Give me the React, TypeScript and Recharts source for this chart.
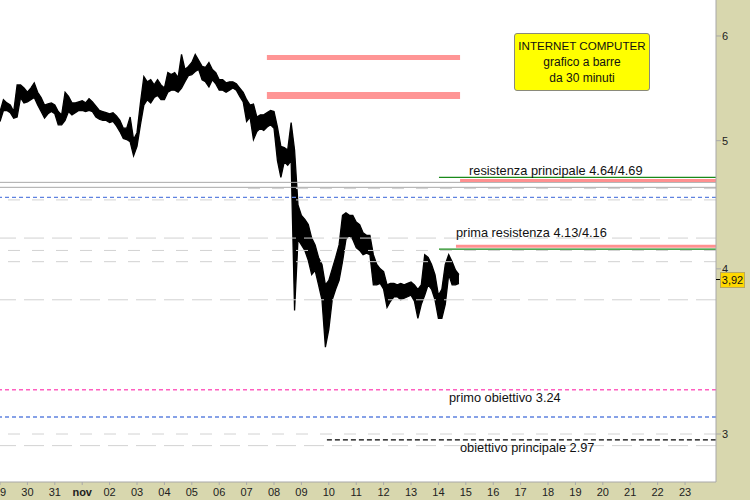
import { ComposedChart, Area, XAxis, YAxis, CartesianGrid, ReferenceLine, ReferenceArea } from 'recharts';

// x axis: one unit = one day, 0 = 29 Oct
const dayLabels = ['29', '30', '31', 'nov', '02', '03', '04', '05', '06', '07', '08', '09', '10', '11', '12', '13', '14', '15', '16', '17', '18', '19', '20', '21', '22', '23'];

// price range of each 3-hour slice
const barHigh = [
  5.26, 5.37, 5.34, 5.32, 5.26, 5.51, 5.51, 5.48, 5.44, 5.48,
  5.53, 5.44, 5.39, 5.32, 5.33, 5.34, 5.32, 5.26, 5.23, 5.44,
  5.40, 5.34, 5.34, 5.35, 5.36, 5.34, 5.38, 5.35, 5.31, 5.27,
  5.26, 5.25, 5.24, 5.25, 5.22, 5.18, 5.11, 5.11, 5.21, 5.01,
  5.07, 5.34, 5.59, 5.54, 5.56, 5.51, 5.56, 5.51, 5.48, 5.63,
  5.61, 5.63, 5.58, 5.81, 5.66, 5.69, 5.73, 5.81, 5.75, 5.69,
  5.68, 5.73, 5.66, 5.63, 5.56, 5.56, 5.53, 5.54, 5.54, 5.52,
  5.48, 5.44, 5.37, 5.32, 5.33, 5.21, 5.23, 5.23, 5.25, 5.27,
  5.26, 5.12, 4.95, 4.94, 4.92, 5.16, 4.92, 4.47, 4.39, 4.36,
  4.32, 4.22, 4.17, 4.08, 4.03, 3.89, 3.92, 4.00, 4.08, 4.17,
  4.39, 4.41, 4.39, 4.39, 4.34, 4.32, 4.26, 4.24, 4.24, 4.10,
  4.03, 4.00, 3.98, 3.89, 3.90, 3.90, 3.89, 3.90, 3.89, 3.90,
  3.91, 3.89, 3.86, 3.89, 4.10, 4.08, 4.03, 3.96, 3.82, 3.86,
  4.03, 4.10, 4.05, 3.99, 3.96,
];
const barLow = [
  5.17, 5.27, 5.27, 5.25, 5.20, 5.21, 5.39, 5.34, 5.35, 5.37,
  5.39, 5.32, 5.26, 5.20, 5.24, 5.26, 5.24, 5.14, 5.14, 5.18,
  5.26, 5.23, 5.25, 5.27, 5.27, 5.26, 5.27, 5.26, 5.21, 5.19,
  5.18, 5.18, 5.16, 5.17, 5.13, 5.08, 5.02, 5.01, 4.99, 4.87,
  4.95, 5.14, 5.32, 5.37, 5.34, 5.39, 5.41, 5.37, 5.37, 5.44,
  5.46, 5.46, 5.44, 5.48, 5.54, 5.60, 5.61, 5.64, 5.66, 5.56,
  5.54, 5.49, 5.56, 5.52, 5.46, 5.46, 5.44, 5.46, 5.48, 5.46,
  5.40, 5.35, 5.17, 5.21, 5.01, 5.08, 5.11, 5.09, 5.12, 5.14,
  5.11, 4.83, 4.69, 4.82, 4.79, 4.83, 3.72, 4.21, 4.17, 4.13,
  4.06, 3.96, 3.99, 3.89, 3.79, 3.49, 3.60, 3.79, 3.86, 3.92,
  4.05, 4.21, 4.24, 4.21, 4.15, 4.13, 4.10, 4.11, 4.10, 3.89,
  3.89, 3.90, 3.86, 3.74, 3.78, 3.81, 3.81, 3.79, 3.80, 3.81,
  3.82, 3.78, 3.67, 3.76, 3.82, 3.89, 3.86, 3.79, 3.67, 3.67,
  3.76, 3.96, 3.89, 3.89, 3.90,
];
const lastPrice = 3.92;

// drawn levels
const supplyZoneHigh = [5.754, 5.805];
const supplyZoneLow = [5.376, 5.442];
const mainResistance = [4.665, 4.69];
const firstResistance = [4.16, 4.14];
const grayLevels = [4.65, 4.61];
const shortDashLevels = [4.51, 4.13, 4.05, 3.0];
const longDashLevels = [4.22, 3.79, 2.94];
const blueLevels = [4.53, 3.09];
const firstTarget = 3.24;
const mainTarget = 2.97;

const xMax = 26.13;
const data = barHigh.map((h, i) => ({ t: i / 8, range: [barLow[i], h] }));

function DayTick({ x, y, payload }: any) {
  const label = dayLabels[payload.value];
  return (
    <text x={x} y={y} dy={9} textAnchor="middle" fontSize={11} fill="#222" fontWeight={label === 'nov' ? 'bold' : 'normal'}>
      {label}
    </text>
  );
}

function PriceTick({ x, y, payload }: any) {
  return (
    <text x={x} y={y} dy="0.35em" textAnchor="start" fontSize={11} fill="#222">
      {payload.value}
    </text>
  );
}

const note = { position: 'absolute' as const, fontSize: 12.8, lineHeight: '16px', color: '#111', whiteSpace: 'nowrap' as const };

export default function App() {
  return (
    <div style={{ position: 'absolute', left: 0, top: 0, width: 750, height: 500, background: '#d8d7ae', fontFamily: '"Liberation Sans", Arial, sans-serif' }}>
      <ComposedChart width={750} height={500} data={data} margin={{ top: 0, right: 0, bottom: 0, left: 0 }}>
        <CartesianGrid fill="#fff" horizontal={false} vertical={false} stroke="none" />
        <XAxis
          dataKey="t"
          type="number"
          domain={[0, xMax]}
          ticks={dayLabels.map((_, i) => i)}
          interval={0}
          allowDataOverflow
          height={18}
          tickSize={3}
          stroke="#a8a8a8"
          tick={<DayTick />}
        />
        <YAxis
          orientation="right"
          type="number"
          scale="log"
          domain={[2.7595, 6.388]}
          ticks={[3, 4, 5, 6]}
          allowDataOverflow
          width={34}
          tickSize={5}
          tickMargin={1}
          stroke="#a8a8a8"
          tick={<PriceTick />}
        />

        {grayLevels.map((v) => (
          <ReferenceLine key={'g' + v} y={v} stroke="#a9a9a9" strokeWidth={1} />
        ))}
        {shortDashLevels.map((v) => (
          <ReferenceLine key={'s' + v} y={v} stroke="#d2d2d2" strokeDasharray="12 12" />
        ))}
        <ReferenceLine segment={[{ x: 9.05, y: 4.6 }, { x: xMax, y: 4.6 }]} stroke="#d2d2d2" strokeDasharray="12 12" />
        {longDashLevels.map((v) => (
          <ReferenceLine key={'l' + v} y={v} stroke="#d2d2d2" strokeDasharray="20 8" />
        ))}
        {blueLevels.map((v) => (
          <ReferenceLine key={'b' + v} y={v} stroke="#5f82e0" strokeWidth={1.4} strokeDasharray="4 3" />
        ))}
        <ReferenceLine y={firstTarget} stroke="#ff5fc0" strokeWidth={1.4} strokeDasharray="4 3" />
        <ReferenceLine segment={[{ x: 11.93, y: mainTarget }, { x: xMax, y: mainTarget }]} stroke="#000" strokeWidth={1.2} strokeDasharray="5 3" />

        <ReferenceArea x1={9.74} x2={16.79} y1={supplyZoneHigh[0]} y2={supplyZoneHigh[1]} fill="#ff9595" fillOpacity={1} stroke="none" />
        <ReferenceArea x1={9.74} x2={16.79} y1={supplyZoneLow[0]} y2={supplyZoneLow[1]} fill="#ff9595" fillOpacity={1} stroke="none" />

        <ReferenceLine segment={[{ x: 16.02, y: mainResistance[1] }, { x: xMax, y: mainResistance[1] }]} stroke="#1a8a1a" strokeWidth={1.3} />
        <ReferenceLine segment={[{ x: 16.79, y: mainResistance[0] }, { x: xMax, y: mainResistance[0] }]} stroke="#ff9090" strokeWidth={3} />
        <ReferenceLine segment={[{ x: 16.64, y: firstResistance[0] }, { x: xMax, y: firstResistance[0] }]} stroke="#ff9090" strokeWidth={3} />
        <ReferenceLine segment={[{ x: 16.02, y: firstResistance[1] }, { x: xMax, y: firstResistance[1] }]} stroke="#1a8a1a" strokeWidth={1.3} />

        <Area
          dataKey="range"
          type="linear"
          stroke="#000"
          strokeWidth={1.3}
          fill="#000"
          fillOpacity={1}
          dot={false}
          activeDot={false}
          isAnimationActive={false}
        />
      </ComposedChart>

      <div style={{ ...note, left: 469, top: 163 }}>resistenza principale 4.64/4.69</div>
      <div style={{ ...note, left: 456, top: 225 }}>prima resistenza 4.13/4.16</div>
      <div style={{ ...note, left: 449, top: 390 }}>primo obiettivo 3.24</div>
      <div style={{ ...note, left: 460, top: 440 }}>obiettivo principale 2.97</div>

      <div
        style={{
          position: 'absolute', left: 514, top: 33, width: 136, height: 58, background: '#ffff00',
          border: '1px solid #8a8a7a', borderRadius: 3, textAlign: 'center', fontSize: 12, lineHeight: '16px',
          paddingTop: 4, boxSizing: 'border-box', color: '#111',
        }}
      >
        <div style={{ fontSize: 11.6 }}>INTERNET COMPUTER</div>
        <div>grafico a barre</div>
        <div>da 30 minuti</div>
      </div>

      <div style={{ position: 'absolute', left: 716, top: 279, width: 4, height: 1, background: '#000' }} />
      <div
        style={{
          position: 'absolute', left: 720, top: 272, width: 25, height: 16, background: '#ffd800',
          border: '1px solid #b8a860', boxSizing: 'border-box', fontSize: 11, lineHeight: '14px', textAlign: 'center', color: '#111',
        }}
      >
        {lastPrice.toFixed(2).replace('.', ',')}
      </div>
    </div>
  );
}
